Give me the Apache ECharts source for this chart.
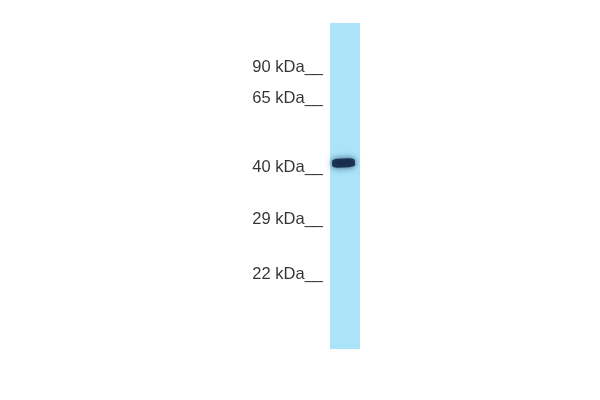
<!DOCTYPE html>
<html>
<head>
<meta charset="utf-8">
<script src="https://cdn.jsdelivr.net/npm/echarts@6/dist/echarts.min.js"></script>
<style>
  html, body { margin: 0; padding: 0; background: #fff; }
  #blot { width: 600px; height: 400px; }
</style>
</head>
<body>
<div id="blot"></div>
<script>
// ── 資料 ─────────────────────────────────────
// lane position measured in px from the top of the lane
const markerLabels = ['90 kDa', '65 kDa', '40 kDa', '29 kDa', '22 kDa'];
const markerPos    = [44, 75, 144, 196, 251];
const bandPos      = [140];
const laneLength   = 326;

const chart = echarts.init(document.getElementById('blot'));

chart.setOption({
  backgroundColor: '#ffffff',
  animation: false,
  grid: {
    left: 330, top: 23, width: 30, height: laneLength,
    show: true, backgroundColor: '#abe4f9', borderWidth: 0,
  },
  xAxis: { type: 'value', min: 0, max: 30, show: false },
  yAxis: { type: 'value', min: 0, max: laneLength, inverse: true, show: false },
  series: [
    {
      // marker ladder labels
      type: 'scatter',
      symbolSize: 0,
      clip: false,
      data: markerPos.map((p, i) => ({ value: [-7, p], name: markerLabels[i] })),
      label: {
        show: true,
        position: 'left',
        distance: 0,
        formatter: p => p.name + '__',
        fontFamily: 'Liberation Sans',
        fontSize: 16.5,
        color: '#000',
      },
    },
    {
      // the band
      type: 'scatter',
      symbol: 'roundRect',
      symbolSize: [23, 9],
      symbolRotate: 3,
      data: bandPos.map(p => [13.5, p]),
      itemStyle: {
        color: '#0a1c38',
        shadowBlur: 6,
        shadowColor: 'rgba(15,40,80,0.95)',
      },
    },
  ],
});
</script>
</body>
</html>
